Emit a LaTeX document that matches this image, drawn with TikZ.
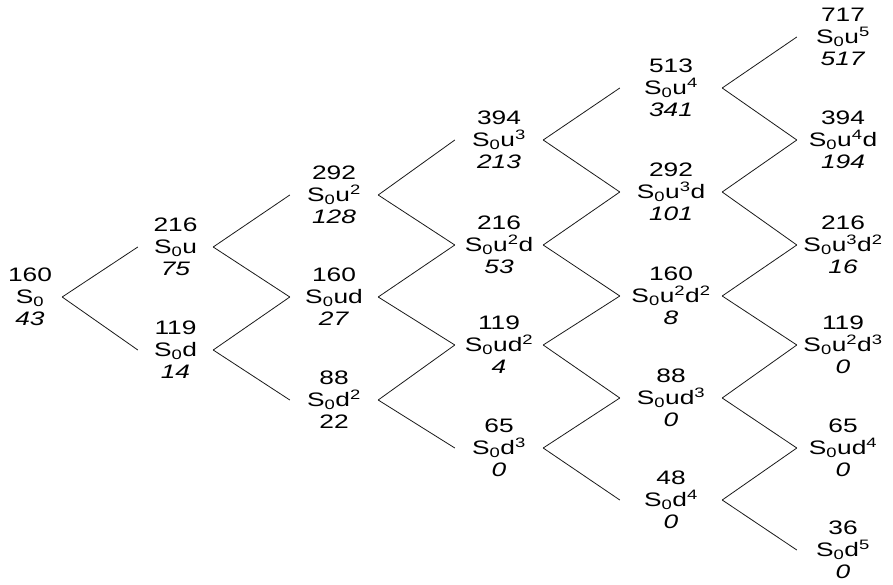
\documentclass[tikz,border=0pt]{standalone}
\usepackage{fontspec}
\setmainfont[FakeStretch=1.35]{Liberation Sans}
\newcommand{\Sz}{S\textsubscript{0}}
\begin{document}
\begin{tikzpicture}[x=1pt,y=-1pt,
    every node/.style={align=center,inner sep=0pt,font=\fontsize{19.5}{22}\selectfont,text=black},
    every edge/.style={draw,line width=0.8pt,black!90}]
    \useasboundingbox (0,0) rectangle (893,585);

    % step 0 and 1
    \node[text width=64pt] (S0) at (30,297) {160\\\Sz\\\textit{43}};
    \node[text width=75pt] (Su) at (175.5,247) {216\\\Sz u\\\textit{75}};
    \node[text width=75pt] (Sd) at (175.5,350) {119\\\Sz d\\\textit{14}};

    % step 2
    \node[text width=88pt] (Su2) at (334,195) {292\\\Sz u\textsuperscript{2}\\\textit{128}};
    \node[text width=88pt] (Sud) at (334,297) {160\\\Sz ud\\\textit{27}};
    \node[text width=88pt] (Sd2) at (334,400) {88\\\Sz d\textsuperscript{2}\\22};

    % step 3
    \node[text width=88pt] (Su3) at (499,140) {394\\\Sz u\textsuperscript{3}\\\textit{213}};
    \node[text width=88pt] (Su2d) at (499,245) {216\\\Sz u\textsuperscript{2}d\\\textit{53}};
    \node[text width=88pt] (Sud2) at (499,345) {119\\\Sz ud\textsuperscript{2}\\\textit{4}};
    \node[text width=88pt] (Sd3) at (499,448) {65\\\Sz d\textsuperscript{3}\\\textit{0}};

    % step 4
    \node[text width=102pt] (Su4) at (671,88) {513\\\Sz u\textsuperscript{4}\\\textit{341}};
    \node[text width=102pt] (Su3d) at (671,192) {292\\\Sz u\textsuperscript{3}d\\\textit{101}};
    \node[text width=102pt] (Su2d2) at (671,296) {160\\\Sz u\textsuperscript{2}d\textsuperscript{2}\\\textit{8}};
    \node[text width=102pt] (Sud3) at (671,398) {88\\\Sz ud\textsuperscript{3}\\\textit{0}};
    \node[text width=102pt] (Sd4) at (671,500) {48\\\Sz d\textsuperscript{4}\\\textit{0}};

    % step 5
    \node[text width=92pt] (Su5) at (843,37) {717\\\Sz u\textsuperscript{5}\\\textit{517}};
    \node[text width=92pt] (Su4d) at (843,140) {394\\\Sz u\textsuperscript{4}d\\\textit{194}};
    \node[text width=92pt] (Su3d2) at (843,245) {216\\\Sz u\textsuperscript{3}d\textsuperscript{2}\\\textit{16}};
    \node[text width=92pt] (Su2d3) at (843,345) {119\\\Sz u\textsuperscript{2}d\textsuperscript{3}\\\textit{0}};
    \node[text width=92pt] (Sud4) at (843,448) {65\\\Sz ud\textsuperscript{4}\\\textit{0}};
    \node[text width=92pt] (Sd5) at (843,550) {36\\\Sz d\textsuperscript{5}\\\textit{0}};

    \path (S0.east) edge (Su.west) (S0.east) edge (Sd.west);
    \path (Su.east) edge (Su2.west) (Su.east) edge (Sud.west);
    \path (Sd.east) edge (Sud.west) (Sd.east) edge (Sd2.west);
    \path (Su2.east) edge (Su3.west) (Su2.east) edge (Su2d.west);
    \path (Sud.east) edge (Su2d.west) (Sud.east) edge (Sud2.west);
    \path (Sd2.east) edge (Sud2.west) (Sd2.east) edge (Sd3.west);
    \path (Su3.east) edge (Su4.west) (Su3.east) edge (Su3d.west);
    \path (Su2d.east) edge (Su3d.west) (Su2d.east) edge (Su2d2.west);
    \path (Sud2.east) edge (Su2d2.west) (Sud2.east) edge (Sud3.west);
    \path (Sd3.east) edge (Sud3.west) (Sd3.east) edge (Sd4.west);
    \path (Su4.east) edge (Su5.west) (Su4.east) edge (Su4d.west);
    \path (Su3d.east) edge (Su4d.west) (Su3d.east) edge (Su3d2.west);
    \path (Su2d2.east) edge (Su3d2.west) (Su2d2.east) edge (Su2d3.west);
    \path (Sud3.east) edge (Su2d3.west) (Sud3.east) edge (Sud4.west);
    \path (Sd4.east) edge (Sud4.west) (Sd4.east) edge (Sd5.west);
\end{tikzpicture}
\end{document}
